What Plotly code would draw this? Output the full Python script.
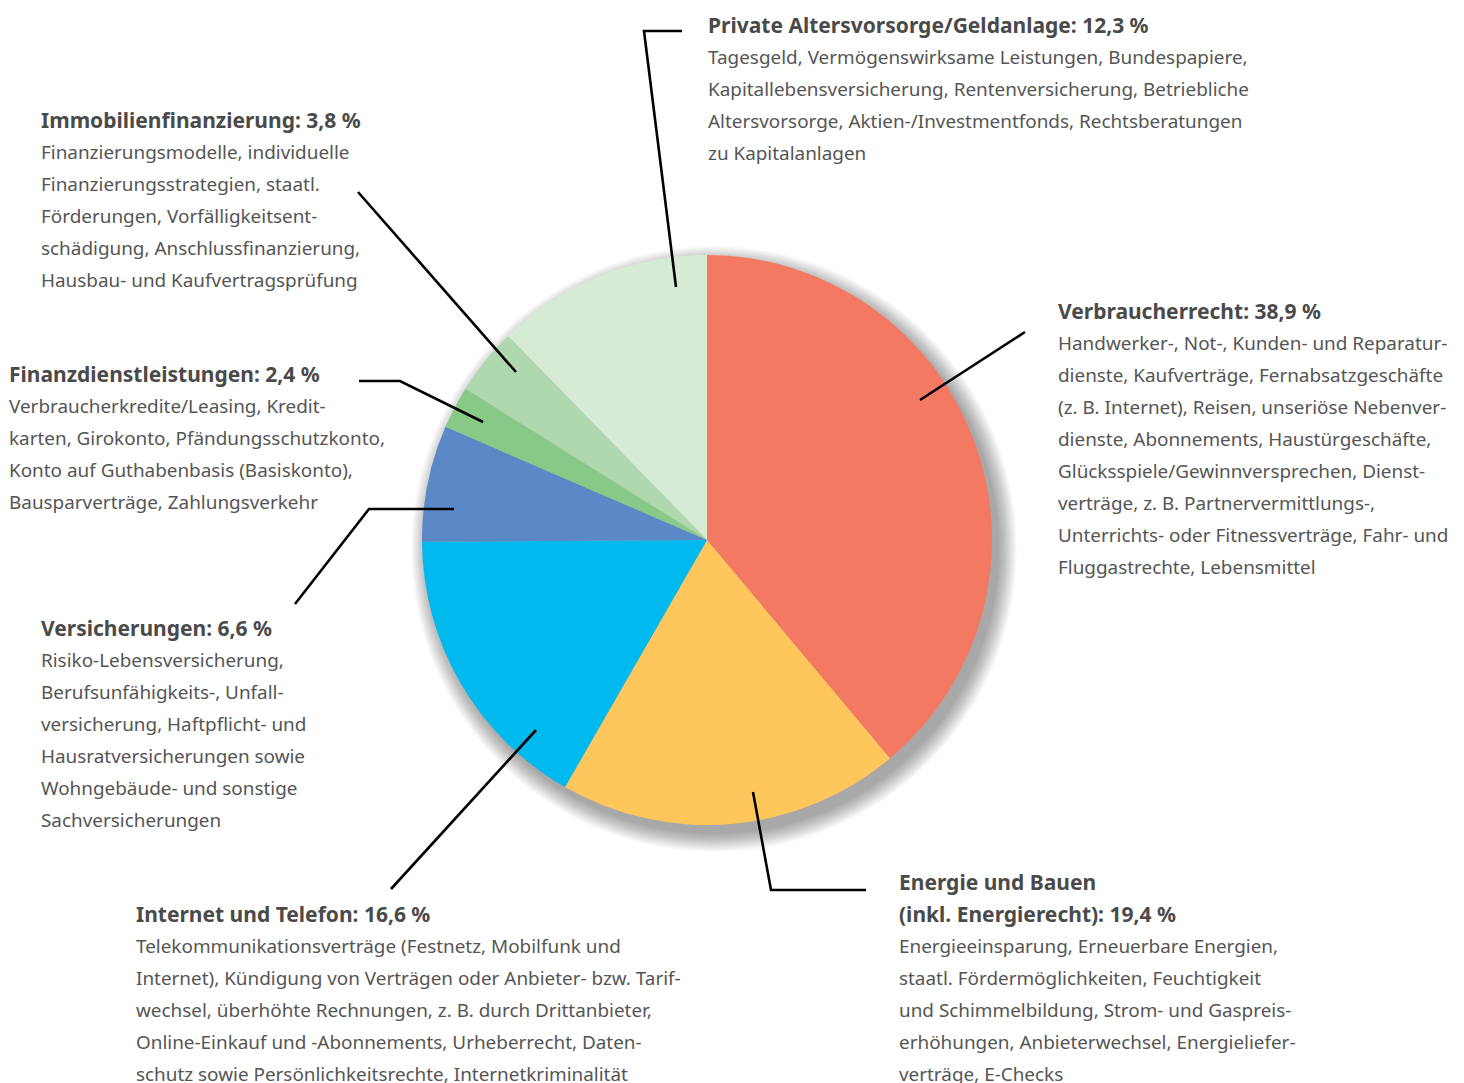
import plotly.graph_objects as go

W, H = 1464, 1083

# ---- data ----
categories = [
    "Verbraucherrecht",
    "Energie und Bauen (inkl. Energierecht)",
    "Internet und Telefon",
    "Versicherungen",
    "Finanzdienstleistungen",
    "Immobilienfinanzierung",
    "Private Altersvorsorge/Geldanlage",
]
shares = [38.9, 19.4, 16.6, 6.6, 2.4, 3.8, 12.3]
colors = ["#F37963", "#FEC65B", "#00B9EE", "#5B88C6", "#88C987", "#AFD8AE", "#D5EBD4"]

title_verbraucher = ["Verbraucherrecht: 38,9 %"]
body_verbraucher = [
    "Handwerker-, Not-, Kunden- und Reparatur-",
    "dienste, Kaufverträge, Fernabsatzgeschäfte",
    "(z. B. Internet), Reisen, unseriöse Nebenver-",
    "dienste, Abonnements, Haustürgeschäfte,",
    "Glücksspiele/Gewinnversprechen, Dienst-",
    "verträge, z. B. Partnervermittlungs-,",
    "Unterrichts- oder Fitnessverträge, Fahr- und",
    "Fluggastrechte, Lebensmittel",
]
title_energie = ["Energie und Bauen", "(inkl. Energierecht): 19,4 %"]
body_energie = [
    "Energieeinsparung, Erneuerbare Energien,",
    "staatl. Fördermöglichkeiten, Feuchtigkeit",
    "und Schimmelbildung, Strom- und Gaspreis-",
    "erhöhungen, Anbieterwechsel, Energieliefer-",
    "verträge, E-Checks",
]
title_internet = ["Internet und Telefon: 16,6 %"]
body_internet = [
    "Telekommunikationsverträge (Festnetz, Mobilfunk und",
    "Internet), Kündigung von Verträgen oder Anbieter- bzw. Tarif-",
    "wechsel, überhöhte Rechnungen, z. B. durch Drittanbieter,",
    "Online-Einkauf und -Abonnements, Urheberrecht, Daten-",
    "schutz sowie Persönlichkeitsrechte, Internetkriminalität",
]
title_versich = ["Versicherungen: 6,6 %"]
body_versich = [
    "Risiko-Lebensversicherung,",
    "Berufsunfähigkeits-, Unfall-",
    "versicherung, Haftpflicht- und",
    "Hausratversicherungen sowie",
    "Wohngebäude- und sonstige",
    "Sachversicherungen",
]
title_finanz = ["Finanzdienstleistungen: 2,4 %"]
body_finanz = [
    "Verbraucherkredite/Leasing, Kredit-",
    "karten, Girokonto, Pfändungsschutzkonto,",
    "Konto auf Guthabenbasis (Basiskonto),",
    "Bausparverträge, Zahlungsverkehr",
]
title_immo = ["Immobilienfinanzierung: 3,8 %"]
body_immo = [
    "Finanzierungsmodelle, individuelle",
    "Finanzierungsstrategien, staatl.",
    "Förderungen, Vorfälligkeitsent-",
    "schädigung, Anschlussfinanzierung,",
    "Hausbau- und Kaufvertragsprüfung",
]
title_private = ["Private Altersvorsorge/Geldanlage: 12,3 %"]
body_private = [
    "Tagesgeld, Vermögenswirksame Leistungen, Bundespapiere,",
    "Kapitallebensversicherung, Rentenversicherung, Betriebliche",
    "Altersvorsorge, Aktien-/Investmentfonds, Rechtsberatungen",
    "zu Kapitalanlagen",
]

# ---- layout helpers (pixel -> paper) ----
def px(x):
    return x / W

def py(y):
    return 1 - y / H

CX, CY, R = 707, 540, 285
FONT = "Noto Sans"
LINE = 31.9

fig = go.Figure()
fig.add_trace(go.Pie(
    labels=categories,
    values=shares,
    marker=dict(colors=colors, line=dict(width=0)),
    sort=False,
    direction="clockwise",
    rotation=0,
    textinfo="none",
    hoverinfo="label+value",
    showlegend=False,
    domain=dict(x=[px(CX - R), px(CX + R)], y=[py(CY + R), py(CY - R)]),
))

shapes = []
# soft drop shadow (stacked translucent discs)
ox, oy = 7, 9
for d in range(18, -1, -1):
    shapes.append(dict(
        type="circle", xref="paper", yref="paper", layer="below",
        x0=px(CX + ox - R - d), x1=px(CX + ox + R + d),
        y0=py(CY + oy + R + d), y1=py(CY + oy - R - d),
        fillcolor="rgba(0,0,0,0.018)", line=dict(width=0),
    ))

leaders = [
    [(682, 31), (644, 31), (676, 287)],
    [(1025, 332), (920, 400)],
    [(753, 792), (771, 890), (866, 890)],
    [(536, 730), (391, 889)],
    [(454, 509), (369, 509), (295, 604)],
    [(359, 381), (400, 381), (483, 422)],
    [(358, 192), (516, 372)],
]
for pts in leaders:
    path = "M " + " L ".join(f"{px(x)},{py(y)}" for x, y in pts)
    shapes.append(dict(type="path", xref="paper", yref="paper", path=path,
                       layer="above", line=dict(color="#000000", width=2.6)))

annotations = []
blocks = [
    (title_private, body_private, 708, 25),
    (title_immo, body_immo, 41, 120),
    (title_finanz, body_finanz, 9, 374),
    (title_versich, body_versich, 41, 628),
    (title_internet, body_internet, 136, 914),
    (title_energie, body_energie, 899, 882),
    (title_verbraucher, body_verbraucher, 1058, 311),
]
for titles, body, x0, y0 in blocks:
    y = y0
    for t in titles:
        annotations.append(dict(
            x=px(x0 - 2), y=py(y), xref="paper", yref="paper", xanchor="left", yanchor="middle",
            text=f"<b>{t}</b>", showarrow=False,
            font=dict(family=FONT, size=21, color="#4a4a4a"),
        ))
        y += LINE
    for line in body:
        annotations.append(dict(
            x=px(x0 - 2), y=py(y + 0.5), xref="paper", yref="paper", xanchor="left", yanchor="middle",
            text=line, showarrow=False,
            font=dict(family=FONT, size=18.9, color="#555555"),
        ))
        y += LINE

fig.update_layout(
    width=W, height=H,
    margin=dict(l=0, r=0, t=0, b=0),
    paper_bgcolor="white", plot_bgcolor="white",
    shapes=shapes, annotations=annotations,
)
fig.write_html("out.html")
